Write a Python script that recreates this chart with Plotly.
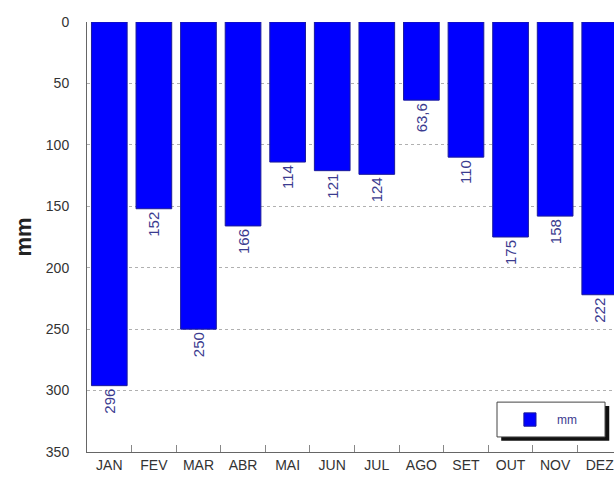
import plotly.graph_objects as go

months = ["JAN", "FEV", "MAR", "ABR", "MAI", "JUN", "JUL", "AGO", "SET", "OUT", "NOV", "DEZ"]
values = [296, 152, 250, 166, 114, 121, 124, 63.6, 110, 175, 158, 222]
labels = ["296", "152", "250", "166", "114", "121", "124", "63,6", "110", "175", "158", "222"]
y_ticks = [0, 50, 100, 150, 200, 250, 300, 350]
series_name = "mm"

fig = go.Figure()
fig.add_trace(go.Bar(
    x=months, y=values, name=series_name,
    text=labels, textposition="outside", textangle=-90,
    textfont=dict(family="Liberation Sans, Arial", size=15, color="#3b3b8f"),
    marker=dict(color="#0000ff", line=dict(color="#1a1a9a", width=1)),
    width=0.8, cliponaxis=False, showlegend=False,
))

# legend box drawn manually (with drop shadow)
fig.add_shape(type="rect", xref="paper", yref="paper",
              x0=0.786, x1=0.991, y0=0.026, y1=0.107,
              fillcolor="#111111", line=dict(width=0))
fig.add_shape(type="rect", xref="paper", yref="paper",
              x0=0.778, x1=0.983, y0=0.035, y1=0.116,
              fillcolor="white", line=dict(color="#444444", width=1))
fig.add_shape(type="rect", xref="paper", yref="paper",
              x0=0.829, x1=0.852, y0=0.060, y1=0.091,
              fillcolor="#0000ff", line=dict(color="#1a1a9a", width=1))
fig.add_annotation(xref="paper", yref="paper", x=0.91, y=0.0755,
                   xanchor="center", yanchor="middle",
                   text=series_name, showarrow=False,
                   font=dict(size=12, color="#3b3b8f"))

fig.update_layout(
    width=614, height=482,
    margin=dict(l=87, r=0, t=22, b=30),
    paper_bgcolor="white", plot_bgcolor="white",
    font=dict(family="Liberation Sans, Arial", size=14, color="#333333"),
    xaxis=dict(range=[-0.5, 11.32], showgrid=False, showline=True,
               linecolor="#666666", linewidth=1, ticks="inside", ticklen=7,
               tickcolor="#888888", tickson="boundaries",
               tickfont=dict(size=14, color="#333333")),
    yaxis=dict(range=[350, 0], tickvals=y_ticks, showgrid=True,
               gridcolor="#b0b0b0", griddash="dot", gridwidth=1,
               showline=True, linecolor="#666666", linewidth=1,
               ticks="", ticklabelstandoff=14, zeroline=False,
               tickfont=dict(size=14, color="#333333"),
               title=dict(text="<b>mm</b>", font=dict(size=22, color="#222222"),
                          standoff=8)),
)

fig.write_html("out.html")
